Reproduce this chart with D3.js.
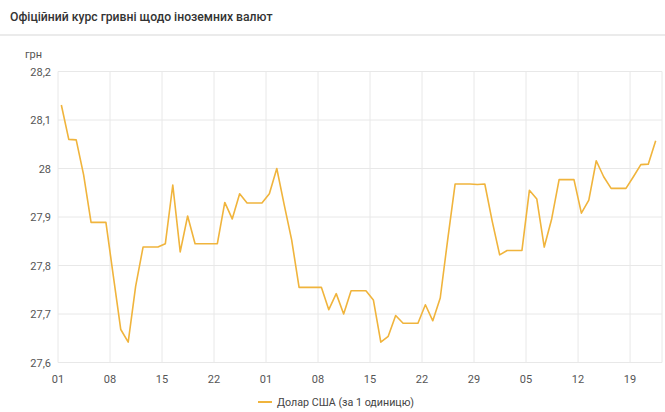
<!DOCTYPE html>
<html><head><meta charset="utf-8">
<script src="https://cdn.jsdelivr.net/npm/d3@7"></script>
<style>body{margin:0;background:#fff;font-family:Roboto,sans-serif}</style>
</head><body><svg id="c" width="665" height="412"></svg>
<script>
const title = "Офіційний курс гривні щодо іноземних валют";
const unitLabel = "грн";
const seriesName = "Долар США (за 1 одиницю)";
const startDate = "2019-02-01";
const usdValues = [28.131,28.060,28.059,27.987,27.889,27.889,27.889,27.778,27.668,27.642,
27.757,27.838,27.838,27.838,27.845,27.966,27.828,27.902,27.845,27.845,
27.845,27.845,27.930,27.896,27.948,27.929,27.929,27.929,27.948,28.000,
27.925,27.853,27.755,27.755,27.755,27.755,27.709,27.742,27.700,27.748,
27.748,27.748,27.729,27.642,27.654,27.697,27.681,27.681,27.681,27.719,
27.686,27.733,27.853,27.968,27.968,27.968,27.967,27.968,27.891,27.822,
27.831,27.831,27.831,27.955,27.937,27.838,27.896,27.977,27.977,27.977,
27.908,27.935,28.016,27.983,27.959,27.959,27.959,27.983,28.008,28.009,28.057];
const yTicks = [27.6,27.7,27.8,27.9,28.0,28.1,28.2];

const svg = d3.select("#c");
const day = 864e5;
const t0 = new Date(startDate + "T00:00:00Z");
const data = usdValues.map((v,i)=>({d:new Date(+t0 + i*day + day*0.45), v}));
const x = d3.scaleUtc().domain([t0, new Date(+t0 + 81.3*day)]).range([58, 662]);
const y = d3.scaleLinear().domain([27.6, 28.2]).range([362.5, 71.5]);

svg.append("text").attr("x",10).attr("y",21).attr("font-size",12.2).attr("font-weight",500)
  .attr("fill","#333").text(title);
svg.append("line").attr("x1",0).attr("x2",665).attr("y1",35).attr("y2",35).attr("stroke","#e4e4e4").attr("stroke-width",1.5);

const xt = d3.utcDay.range(t0, new Date(+t0+81*day), 7);
const g = svg.append("g");
g.selectAll(".vg").data(xt).join("line").attr("x1",d=>x(d)).attr("x2",d=>x(d))
  .attr("y1",y(28.2)).attr("y2",y(27.6)).attr("stroke","#e8e8e8");
g.selectAll(".hg").data(yTicks).join("line").attr("x1",58).attr("x2",662)
  .attr("y1",d=>y(d)).attr("y2",d=>y(d)).attr("stroke","#e8e8e8");
g.append("line").attr("x1",662).attr("x2",662).attr("y1",y(28.2)).attr("y2",y(27.6)).attr("stroke","#e8e8e8");

const fmtY = d => d3.format(".1f")(d).replace(/\.0$/,"").replace(".",",");
g.selectAll(".yl").data(yTicks).join("text").attr("x",51).attr("y",d=>y(d)+4)
  .attr("text-anchor","end").attr("font-size",11).attr("fill","#555").text(fmtY);
g.selectAll(".xl").data(xt).join("text").attr("x",d=>x(d)).attr("y",383)
  .attr("text-anchor","middle").attr("font-size",11).attr("fill","#555").text(d3.utcFormat("%d"));
svg.append("text").attr("x",25).attr("y",58).attr("font-size",11).attr("fill","#555").text(unitLabel);

svg.append("path").datum(data).attr("fill","none").attr("stroke","#f0b43c").attr("stroke-width",1.6)
  .attr("stroke-linejoin","round").attr("d", d3.line().x(d=>x(d.d)).y(d=>y(d.v)));

svg.append("line").attr("x1",258).attr("x2",272).attr("y1",402).attr("y2",402).attr("stroke","#f0b43c").attr("stroke-width",2);
svg.append("text").attr("x",277).attr("y",406).attr("font-size",10.7).attr("fill","#444").text(seriesName);
</script></body></html>
